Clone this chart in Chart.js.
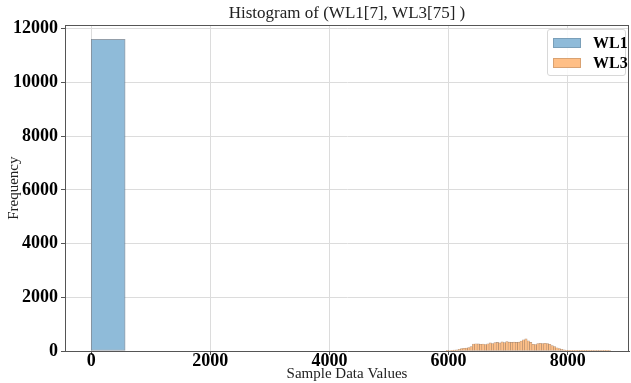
<!DOCTYPE html>
<html>
<head>
<meta charset="utf-8">
<script src="https://cdn.jsdelivr.net/npm/chart.js@4/dist/chart.umd.min.js"></script>
<style>
  html, body { margin: 0; padding: 0; background: #fff; }
  #wrap { position: relative; width: 631px; height: 383px; }
  #legend {
    position: absolute; left: 547px; top: 29px; width: 79px; height: 47px;
    border: 1px solid #d8d8d8; border-radius: 3px; background: rgba(255,255,255,0.85);
    font-family: "Liberation Serif", "Times New Roman", serif; font-weight: bold; font-size: 16px; color: #000;
    box-sizing: border-box;
  }
  .row { position: absolute; left: 5px; height: 18px; display: flex; align-items: center; }
  .sw { width: 28px; height: 10px; margin-right: 12px; box-sizing: border-box; }
</style>
</head>
<body>
<div id="wrap">
  <canvas id="c" width="631" height="383"></canvas>
  <div id="legend">
    <div class="row" style="top:4px"><div class="sw" style="background:#8fbbd9;border:1px solid #7a9fb9"></div><span>WL1</span></div>
    <div class="row" style="top:24px"><div class="sw" style="background:#ffbf86;border:1px solid #d9a272"></div><span>WL3</span></div>
  </div>
</div>
<script>
// ---- data ----
const titleText = "Histogram of (WL1[7], WL3[75] )";
const xLabel = "Sample Data Values";
const yLabel = "Frequency";
const seriesNames = ["WL1", "WL3"];

// WL1 histogram: bin starts and counts
const wl1BinStarts = [0, 570];
const wl1Counts = [11600, null];

// WL3 histogram: bin starts and counts
const wl3BinStarts = [5960, 6000, 6040, 6080, 6120, 6160, 6200, 6240, 6280, 6320, 6360, 6400, 6440, 6480, 6520, 6560, 6600, 6640, 6680, 6720, 6760, 6800, 6840, 6880, 6920, 6960, 7000, 7040, 7080, 7120, 7160, 7200, 7240, 7280, 7320, 7360, 7400, 7440, 7480, 7520, 7560, 7600, 7640, 7680, 7720, 7760, 7800, 7840, 7880, 7920, 7960, 8000, 8040, 8080, 8120, 8160, 8200, 8240, 8280, 8320, 8360, 8400, 8440, 8480, 8520, 8560, 8600, 8640, 8680];
const wl3Counts = [10, 20, 25, 30, 40, 60, 90, 100, 110, 130, 160, 260, 270, 265, 250, 260, 240, 270, 300, 280, 310, 320, 300, 340, 310, 350, 330, 320, 330, 320, 330, 370, 420, 450, 380, 320, 250, 240, 280, 290, 280, 290, 280, 250, 200, 160, 120, 90, 60, 40, 25, 15, 12, 10, 8, 8, 6, 5, 5, 4, 4, 3, 3, 2, 2, 3, 5, 8, 3];

const xTicks = [0, 2000, 4000, 6000, 8000];
const yTicks = [0, 2000, 4000, 6000, 8000, 10000, 12000];

function toBars(starts, counts) {
  const w = starts[1] - starts[0];
  return starts.map((s, i) => ({ x: s + w / 2, y: counts[i] }));
}

const serif = "'Liberation Serif', 'Times New Roman', serif";

const framePlugin = {
  id: 'frame',
  afterDatasetsDraw(chart) {
    const { ctx, chartArea: a } = chart;
    ctx.save();
    ctx.strokeStyle = '#555';
    ctx.lineWidth = 1;
    ctx.beginPath();
    ctx.moveTo(Math.round(a.left), Math.round(a.top) + 0.5);
    ctx.lineTo(Math.round(a.right), Math.round(a.top) + 0.5);
    ctx.moveTo(Math.round(a.right) - 0.5, Math.round(a.top));
    ctx.lineTo(Math.round(a.right) - 0.5, Math.round(a.bottom));
    ctx.stroke();
    ctx.restore();
  }
};

new Chart(document.getElementById('c'), {
  type: 'bar',
  data: {
    datasets: [
      {
        label: seriesNames[0],
        data: toBars(wl1BinStarts, wl1Counts),
        xAxisID: 'x',
        backgroundColor: '#8fbbd9',
        borderColor: 'rgba(60,80,100,0.55)',
        borderWidth: 1,
        borderSkipped: false,
        barPercentage: 1.0,
        categoryPercentage: 1.0,
        grouped: false
      },
      {
        label: seriesNames[1],
        data: toBars(wl3BinStarts, wl3Counts),
        xAxisID: 'x2',
        backgroundColor: '#ffbf86',
        borderColor: 'rgba(120,70,30,0.55)',
        borderWidth: 0.6,
        borderSkipped: false,
        barPercentage: 1.0,
        categoryPercentage: 1.0,
        grouped: false
      }
    ]
  },
  options: {
    responsive: false,
    animation: false,
    layout: { padding: { left: 0, right: 2, top: 3, bottom: 0 } },
    plugins: {
      legend: { display: false },
      tooltip: { enabled: false },
      title: {
        display: true, text: titleText, color: '#222', fullSize: false,
        font: { family: serif, size: 17, weight: 'normal' },
        padding: { top: 0, bottom: 2 }
      }
    },
    scales: {
      x: {
        type: 'linear', min: -440, max: 9030, offset: false,
        afterBuildTicks: (s) => { s.ticks = xTicks.map(v => ({ value: v })); },
        ticks: { color: '#000', font: { family: serif, size: 18, weight: 'bold', lineHeight: 1.0 }, padding: -3, maxRotation: 0,
                 callback: (v) => String(v) },
        grid: { color: '#dcdcdc', tickLength: 4, tickColor: '#555', offset: false },
        border: { color: '#555' },
        title: { display: true, text: xLabel, color: '#222', font: { family: serif, size: 15, lineHeight: 1.0 }, padding: { top: 0, bottom: 1 } }
      },
      x2: {
        type: 'linear', min: -440, max: 9030, display: false, offset: false, grid: { offset: false }
      },
      y: {
        type: 'linear', min: 0, max: 12123,
        afterBuildTicks: (s) => { s.ticks = yTicks.map(v => ({ value: v })); },
        ticks: { color: '#000', font: { family: serif, size: 18, weight: 'bold' }, padding: 3,
                 callback: (v) => String(v) },
        grid: { color: '#dcdcdc', tickLength: 4, tickColor: '#555' },
        border: { color: '#555' },
        title: { display: true, text: yLabel, color: '#222', font: { family: serif, size: 15 }, padding: { top: 5, bottom: -13 } }
      }
    }
  },
  plugins: [framePlugin]
});
</script>
</body>
</html>
